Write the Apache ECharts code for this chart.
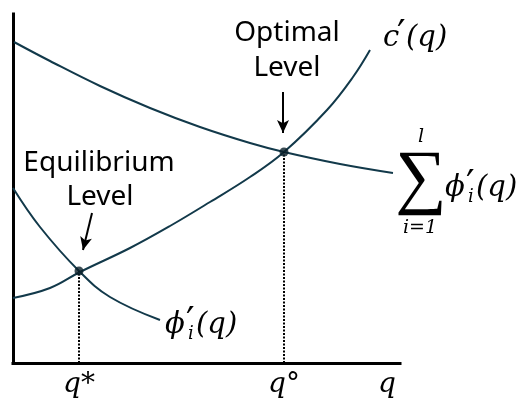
<!DOCTYPE html>
<html>
<head>
<meta charset="utf-8">
<script src="https://cdn.jsdelivr.net/npm/echarts@6/dist/echarts.min.js"></script>
<style>
  html, body { margin: 0; padding: 0; background: #fff; }
  #chart { width: 521px; height: 399px; }
</style>
</head>
<body>
<div id="chart"></div>
<script>
// curve points, q on x, value on y (units of the plot area)
const sumQ = [1, 37, 87, 137, 187, 237, 271, 327, 380]
const sumV = [321, 302, 277, 255, 236, 220, 211, 199, 190]

const costQ = [0, 37, 67, 117, 157, 197, 237, 271, 314, 340, 357]
const costV = [65, 75, 91, 115, 137, 161, 186, 211, 253, 286, 313]

const phiQ = [0, 27, 66, 97, 147]
const phiV = [175, 136, 92, 66, 43]

// the two intersections
const eqQ = [66, 271]
const eqV = [92, 211]

// tick labels under the q axis
const qTicks = [66, 271, 374]
const qTickLabels = ['q*', 'q°', 'q']

const curveColor = '#12394a'
const mathFont = 'italic 29px "DejaVu Serif"'
const primeFont = '38px "DejaVu Sans"'
const textFont = '28px "Noto Sans"'

const zip = (xs, ys) => xs.map((x, i) => [x, ys[i]])

const txt = (x, y, text, font, align) => ({
  type: 'text', x, y,
  style: { text, font, fill: '#000', textAlign: align || 'left', textVerticalAlign: 'middle' }
})

// phi'_i(q) with the prime stacked over the subscript
const phiLabel = (ox, oy) => ({
  type: 'group',
  children: [
    txt(ox, oy, 'ϕ', mathFont),
    txt(ox + 21, oy - 2, '′', primeFont),
    txt(ox + 23, oy + 9, 'i', 'italic 18px "DejaVu Serif"'),
    txt(ox + 31, oy, '(q)', mathFont)
  ]
})

const myChart = echarts.init(document.getElementById('chart'))

const options = {
  animation: false,
  grid: { left: 13, right: 121, top: 14, bottom: 36 },
  xAxis: {
    type: 'value',
    min: 0,
    max: 387,
    axisLine: { lineStyle: { color: '#000', width: 3, cap: 'square' } },
    axisTick: { show: false },
    splitLine: { show: false },
    axisLabel: {
      customValues: qTicks,
      formatter: v => qTickLabels[qTicks.indexOf(v)],
      color: '#000',
      fontFamily: 'DejaVu Serif',
      fontStyle: 'italic',
      fontSize: 28,
      margin: 8
    }
  },
  yAxis: {
    type: 'value',
    min: 0,
    max: 349,
    axisLine: { show: true, lineStyle: { color: '#000', width: 3, cap: 'square' } },
    axisTick: { show: false },
    splitLine: { show: false },
    axisLabel: { show: false }
  },
  series: [
    {
      name: 'sum',
      type: 'line',
      smooth: 0.4,
      showSymbol: false,
      silent: true,
      lineStyle: { color: curveColor, width: 2 },
      data: zip(sumQ, sumV)
    },
    {
      name: 'cost',
      type: 'line',
      smooth: 0.4,
      showSymbol: false,
      silent: true,
      lineStyle: { color: curveColor, width: 2 },
      data: zip(costQ, costV)
    },
    {
      name: 'phi',
      type: 'line',
      smooth: 0.4,
      showSymbol: false,
      silent: true,
      lineStyle: { color: curveColor, width: 2 },
      data: zip(phiQ, phiV)
    },
    {
      name: 'levels',
      type: 'scatter',
      symbolSize: 9,
      silent: true,
      z: 5,
      itemStyle: { color: '#0a1f29' },
      data: zip(eqQ, eqV),
      markLine: {
        silent: true,
        symbol: 'none',
        label: { show: false },
        lineStyle: { color: '#000', width: 2, type: [2, 1.5] },
        data: eqQ.map((q, i) => [{ coord: [q, 0] }, { coord: [q, eqV[i]] }])
      }
    },
    {
      name: 'arrows',
      type: 'line',
      data: [],
      markLine: {
        silent: true,
        symbol: ['none', 'arrow'],
        symbolSize: [9, 13],
        label: { show: false },
        lineStyle: { color: '#000', width: 2, type: 'solid' },
        data: [
          [{ coord: [270, 271] }, { coord: [270, 230] }],
          [{ coord: [79, 150] }, { coord: [70, 113] }]
        ]
      }
    }
  ],
  graphic: [
    txt(287, 33, 'Optimal', textFont, 'center'),
    txt(287, 68, 'Level', textFont, 'center'),
    txt(99, 163, 'Equilibrium', textFont, 'center'),
    txt(100, 197, 'Level', textFont, 'center'),
    txt(383, 38, 'c', mathFont),
    txt(397, 36, '′', primeFont),
    txt(406, 38, '(q)', mathFont),
    txt(421, 181, '∑', '72px "Liberation Serif"', 'center'),
    txt(421, 137, 'l', 'italic 19px "DejaVu Serif"', 'center'),
    txt(420, 228, 'i=1', 'italic 19px "DejaVu Serif"', 'center'),
    phiLabel(445, 188),
    phiLabel(165, 325)
  ]
}

myChart.setOption(options)
</script>
</body>
</html>
